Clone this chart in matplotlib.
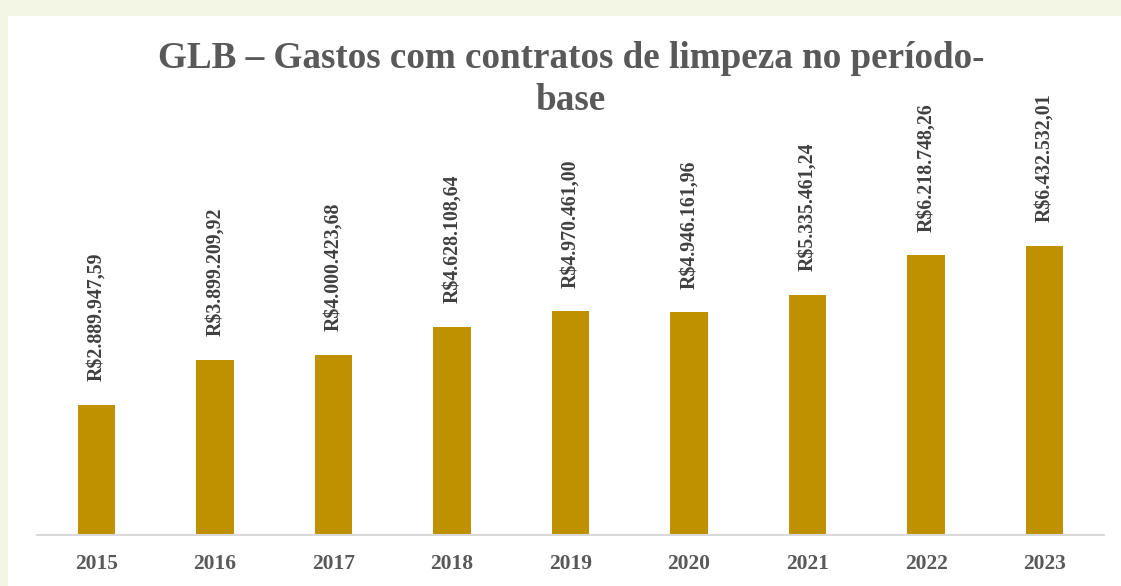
import matplotlib
matplotlib.use("Agg")
import matplotlib.pyplot as plt
from matplotlib.patches import Rectangle

years = ["2015", "2016", "2017", "2018", "2019", "2020", "2021", "2022", "2023"]
values = [2889947.59, 3899209.92, 4000423.68, 4628108.64, 4970461.00,
          4946161.96, 5335461.24, 6218748.26, 6432532.01]
labels = ["R$2.889.947,59", "R$3.899.209,92", "R$4.000.423,68", "R$4.628.108,64",
          "R$4.970.461,00", "R$4.946.161,96", "R$5.335.461,24", "R$6.218.748,26",
          "R$6.432.532,01"]
title_lines = ["GLB – Gastos com contratos de limpeza no período-", "base"]

W, H = 1121, 586
fig = plt.figure(figsize=(W / 100, H / 100), dpi=100)
fig.patch.set_facecolor("#F3F6E5")
fig.patches.append(Rectangle((8 / W, 0), 1 - 8 / W, 1 - 16 / H, transform=fig.transFigure,
                             facecolor="white", edgecolor="none", zorder=-5))

serif = ["Liberation Serif", "DejaVu Serif"]

x0, x1 = 37, 1104
y0, y1 = 535, 100
ax = fig.add_axes([x0 / W, 1 - y0 / H, (x1 - x0) / W, (y0 - y1) / H])
ax.set_zorder(1)
ax.set_facecolor("none")
ax.bar(range(len(years)), values, width=0.315, color="#BF9000", zorder=2)
ax.set_xlim(-0.5, len(years) - 0.5)
ax.set_ylim(0, 9.67e6)
for s in ["top", "right", "left"]:
    ax.spines[s].set_visible(False)
ax.spines["bottom"].set_color("#D9D9D9")
ax.spines["bottom"].set_linewidth(1.5)
ax.set_yticks([])
ax.set_xticks(range(len(years)))
ax.set_xticklabels(years, fontfamily=serif, fontweight="bold", fontsize=15.5, color="#595959")
ax.tick_params(axis="x", length=0, pad=14)

for i, (v, lab) in enumerate(zip(values, labels)):
    ax.annotate(lab, (i, v), xytext=(0, 17), textcoords="offset points",
                rotation=90, ha="center", va="bottom", fontfamily=serif,
                fontweight="bold", fontsize=14.3, color="#404040")

for line, ybase in zip(title_lines, [68, 110]):
    fig.text(571 / W, 1 - ybase / H, line, ha="center", va="baseline", fontfamily=serif,
             fontweight="bold", fontsize=26.7, color="#595959", zorder=3)

fig.savefig("out.png", dpi=100, facecolor=fig.get_facecolor())
